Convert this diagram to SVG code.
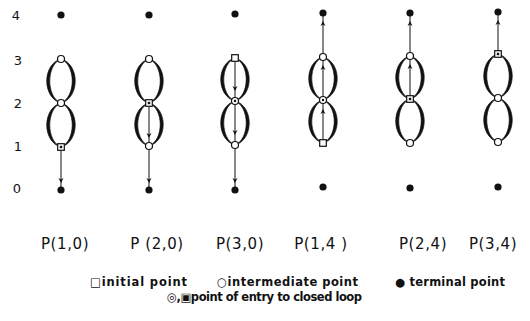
<svg xmlns="http://www.w3.org/2000/svg" width="530" height="321" viewBox="0 0 530 321">
<defs>
<style>
.lobe{fill:#111;stroke:#111;stroke-width:0.7;stroke-linejoin:round}
.conn{fill:none;stroke:#111;stroke-width:1;marker-mid:url(#ah)}
.term{fill:#111}
.open{fill:#fff;stroke:#111;stroke-width:1.2}
.inner{fill:#111}
.ax{font-family:"DejaVu Sans","Liberation Sans",sans-serif;font-size:13px;fill:#111;text-anchor:middle}
.lab{font-family:"DejaVu Sans","Liberation Sans",sans-serif;font-size:15px;fill:#111;text-anchor:middle;letter-spacing:0.6px}
.leg{font-family:"DejaVu Sans","Liberation Sans",sans-serif;font-size:11.5px;font-weight:bold;fill:#111}
</style>
<marker id="ah" viewBox="0 0 10 10" refX="8" refY="5" markerWidth="5" markerHeight="7" markerUnits="userSpaceOnUse" orient="auto">
<path d="M0,0 L10,5 L0,10 L3,5 Z" fill="#111"/>
</marker>
<symbol id="circ" overflow="visible"><circle r="3.5" class="open"/></symbol>
<symbol id="sq" overflow="visible"><rect x="-3.3" y="-3.3" width="6.6" height="6.6" class="open"/></symbol>
<symbol id="circd" overflow="visible"><circle r="3.5" class="open"/><circle r="1.2" class="inner"/></symbol>
<symbol id="sqd" overflow="visible"><rect x="-3.3" y="-3.3" width="6.6" height="6.6" class="open"/><rect x="-1.2" y="-1.2" width="2.4" height="2.4" class="inner"/></symbol>
<symbol id="dot" overflow="visible"><circle r="3.6" class="term"/></symbol>
</defs>
<rect width="530" height="321" fill="#fff"/>

<g id="axis">
<text class="ax" x="16" y="20">4</text>
<text class="ax" x="18" y="65">3</text>
<text class="ax" x="18" y="108">2</text>
<text class="ax" x="18" y="151">1</text>
<text class="ax" x="17" y="193">0</text>
</g>

<g id="lobes">
<!-- col1 -->
<path class="lobe" d="M61,59 C42,64 42,98 61,103 C46,97 46,65 61,59 Z M61,59 C80,64 80,98 61,103 C76,97 76,65 61,59 Z"/>
<path class="lobe" d="M61,103 C42,108 42,142 61,147 C46,141 46,109 61,103 Z M61,103 C80,108 80,142 61,147 C76,141 76,109 61,103 Z"/>
<!-- col2 -->
<path class="lobe" d="M149,59 C130,64 130,98 149,103 C134,97 134,65 149,59 Z M149,59 C168,64 168,98 149,103 C164,97 164,65 149,59 Z"/>
<path class="lobe" d="M149,103 C130,108 130,141 149,146 C134,140 134,109 149,103 Z M149,103 C168,108 168,141 149,146 C164,140 164,109 149,103 Z"/>
<!-- col3 -->
<path class="lobe" d="M235,58 C216,63 216,96 235,101 C220,95 220,64 235,58 Z M235,58 C254,63 254,96 235,101 C250,95 250,64 235,58 Z"/>
<path class="lobe" d="M235,101 C216,106 216,140 235,145 C220,139 220,107 235,101 Z M235,101 C254,106 254,140 235,145 C250,139 250,107 235,101 Z"/>
<!-- col4 -->
<path class="lobe" d="M323,57 C304,62 304,95 323,100 C308,94 308,63 323,57 Z M323,57 C342,62 342,95 323,100 C338,94 338,63 323,57 Z"/>
<path class="lobe" d="M323,100 C304,105 304,138 323,143 C308,137 308,106 323,100 Z M323,100 C342,105 342,138 323,143 C338,137 338,106 323,100 Z"/>
<!-- col5 -->
<path class="lobe" d="M410,56 C391,61 391,94 410,99 C395,93 395,62 410,56 Z M410,56 C429,61 429,94 410,99 C425,93 425,62 410,56 Z"/>
<path class="lobe" d="M410,99 C391,104 391,138 410,143 C395,137 395,105 410,99 Z M410,99 C429,104 429,138 410,143 C425,137 425,105 410,99 Z"/>
<!-- col6 -->
<path class="lobe" d="M498,54 C479,59 479,93 498,98 C483,92 483,60 498,54 Z M498,54 C517,59 517,93 498,98 C513,92 513,60 498,54 Z"/>
<path class="lobe" d="M498,98 C479,103 479,137 498,142 C483,136 483,104 498,98 Z M498,98 C517,103 517,137 498,142 C513,136 513,104 498,98 Z"/>
</g>

<g id="connectors">
<path class="conn" d="M61,147 L61,182 L61,190"/>
<path class="conn" d="M149,103 L149,137 L149,146"/>
<path class="conn" d="M149,146 L149,182 L149,190"/>
<path class="conn" d="M235,58 L235,90 L235,101"/>
<path class="conn" d="M235,101 L235,134 L235,145"/>
<path class="conn" d="M235,145 L235,182 L235,190"/>
<path class="conn" d="M323,143 L323,110 L323,100"/>
<path class="conn" d="M323,100 L323,66 L323,57"/>
<path class="conn" d="M323,57 L323,22 L323,13"/>
<path class="conn" d="M410,99 L410,65 L410,56"/>
<path class="conn" d="M410,56 L410,22 L410,13"/>
<path class="conn" d="M498,54 L498,21 L498,12"/>
</g>

<g id="col1">
<use href="#dot" x="61" y="15"/><use href="#circ" x="61" y="59"/><use href="#circ" x="61" y="103"/><use href="#sqd" x="61" y="147"/><use href="#dot" x="61" y="190"/>
<text class="lab" x="65" y="249">P(1,0)</text>
</g>
<g id="col2">
<use href="#dot" x="149" y="15"/><use href="#circ" x="149" y="59"/><use href="#sqd" x="149" y="103"/><use href="#circ" x="149" y="146"/><use href="#dot" x="149" y="190"/>
<text class="lab" x="157" y="249">P (2,0)</text>
</g>
<g id="col3">
<use href="#dot" x="235" y="14"/><use href="#sq" x="235" y="58"/><use href="#circd" x="235" y="101"/><use href="#circ" x="235" y="145"/><use href="#dot" x="235" y="190"/>
<text class="lab" x="240" y="249">P(3,0)</text>
</g>
<g id="col4">
<use href="#dot" x="323" y="13"/><use href="#circ" x="323" y="57"/><use href="#circd" x="323" y="100"/><use href="#sq" x="323" y="143"/><use href="#dot" x="323" y="187"/>
<text class="lab" x="321" y="249">P(1,4 )</text>
</g>
<g id="col5">
<use href="#dot" x="410" y="13"/><use href="#circ" x="410" y="56"/><use href="#sqd" x="410" y="99"/><use href="#circ" x="410" y="143"/><use href="#dot" x="410" y="188"/>
<text class="lab" x="423" y="249">P(2,4)</text>
</g>
<g id="col6">
<use href="#dot" x="498" y="12"/><use href="#sqd" x="498" y="54"/><use href="#circ" x="498" y="98"/><use href="#circ" x="498" y="142"/><use href="#dot" x="498" y="187"/>
<text class="lab" x="493" y="249">P(3,4)</text>
</g>

<g id="legend">
<text class="leg" x="90" y="286" textLength="97" lengthAdjust="spacing">□initial point</text>
<text class="leg" x="217" y="286" textLength="141" lengthAdjust="spacing">○intermediate point</text>
<text class="leg" x="395" y="286" textLength="110" lengthAdjust="spacing">● terminal point</text>
<text class="leg" x="167" y="301" textLength="195" lengthAdjust="spacing">◎,▣point of entry to closed loop</text>
</g>
</svg>
